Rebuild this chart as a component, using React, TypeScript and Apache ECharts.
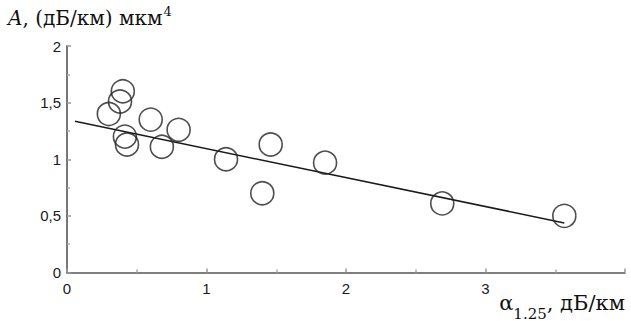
import React, { useEffect, useRef } from "react";
import * as echarts from "echarts";

const pointsX = [0.40, 0.38, 0.30, 0.415, 0.43, 0.60, 0.68, 0.80, 1.14, 1.46, 1.40, 1.85, 2.69, 3.565];
const pointsY = [1.60, 1.51, 1.40, 1.20, 1.13, 1.35, 1.11, 1.26, 1.00, 1.13, 0.70, 0.97, 0.61, 0.50];
const fitX = [0.057, 3.565];
const fitY = [1.335, 0.438];
const xTicks = [0, 1, 2, 3];
const yTicks = [0, 0.5, 1, 1.5, 2];

export default function App() {
  const ref = useRef<HTMLDivElement>(null);
  useEffect(() => {
    if (!ref.current) return;
    const chart = echarts.init(ref.current, null, { renderer: "svg" });
    const fmt = (v: number) => String(v).replace(".", ",");
    const serif = "DejaVu Serif";
    chart.setOption({
      animation: false,
      grid: { left: 67, right: 6, top: 46, bottom: 48.5, containLabel: false },
      xAxis: {
        type: "value",
        min: 0,
        max: 4,
        interval: 1,
        axisLine: { show: true, lineStyle: { color: "#555", width: 1.5 } },
        axisTick: { show: true, inside: true, length: 4, lineStyle: { color: "#999", width: 1.5 } },
        minorTick: { show: true, splitNumber: 2, length: 3, lineStyle: { color: "#aaa", width: 1.5 } },
        splitLine: { show: false },
        axisLabel: {
          margin: 8,
          color: "#1a1a1a",
          fontFamily: "Liberation Sans",
          fontSize: 15,
          showMaxLabel: false,
          formatter: (v: number) => (xTicks.includes(v) ? fmt(v) : ""),
        },
      },
      yAxis: {
        type: "value",
        min: 0,
        max: 2,
        interval: 0.5,
        axisLine: { show: true, lineStyle: { color: "#777", width: 2 } },
        axisTick: { show: true, inside: true, length: 4, lineStyle: { color: "#999", width: 1.5 } },
        minorTick: { show: true, splitNumber: 2, length: 3, lineStyle: { color: "#aaa", width: 1.5 } },
        splitLine: { show: false },
        axisLabel: {
          margin: 6,
          color: "#1a1a1a",
          fontFamily: "Liberation Sans",
          fontSize: 15,
          formatter: (v: number) => (yTicks.includes(v) ? fmt(v) : ""),
        },
      },
      series: [
        {
          type: "line",
          data: fitX.map((x, i) => [x, fitY[i]]),
          symbol: "none",
          lineStyle: { color: "#1a1a1a", width: 1.5 },
          z: 2,
        },
        {
          type: "scatter",
          data: pointsX.map((x, i) => [x, pointsY[i]]),
          symbol: "circle",
          symbolSize: 23,
          itemStyle: { color: "rgba(255,255,255,0)", borderColor: "#222", borderWidth: 1.6 },
          z: 3,
        },
      ],
      graphic: [
        {
          type: "text",
          left: 8,
          top: 3,
          style: {
            text: "{a|A}{b|, (дБ/км) мкм}{s|4}",
            rich: {
              a: { fontFamily: serif, fontStyle: "italic", fontSize: 20, fill: "#111", lineHeight: 25, verticalAlign: "bottom" },
              b: { fontFamily: serif, fontSize: 20, fill: "#111", lineHeight: 25, verticalAlign: "bottom" },
              s: { fontFamily: serif, fontSize: 13, fill: "#111", lineHeight: 25, verticalAlign: "top", padding: [2, 0, 0, 1] },
            },
          },
        },
        {
          type: "text",
          right: 6,
          top: 292,
          style: {
            text: "{a|α}{s|1.25}{b|, дБ/км}",
            rich: {
              a: { fontFamily: serif, fontSize: 21, fill: "#111", lineHeight: 29, verticalAlign: "top" },
              s: { fontFamily: serif, fontSize: 15, fill: "#111", lineHeight: 29, verticalAlign: "bottom" },
              b: { fontFamily: serif, fontSize: 21, fill: "#111", lineHeight: 29, verticalAlign: "top" },
            },
          },
        },
      ],
    });
    return () => chart.dispose();
  }, []);
  return <div ref={ref} style={{ width: 631, height: 321, position: "absolute", left: 0, top: 0 }} />;
}
